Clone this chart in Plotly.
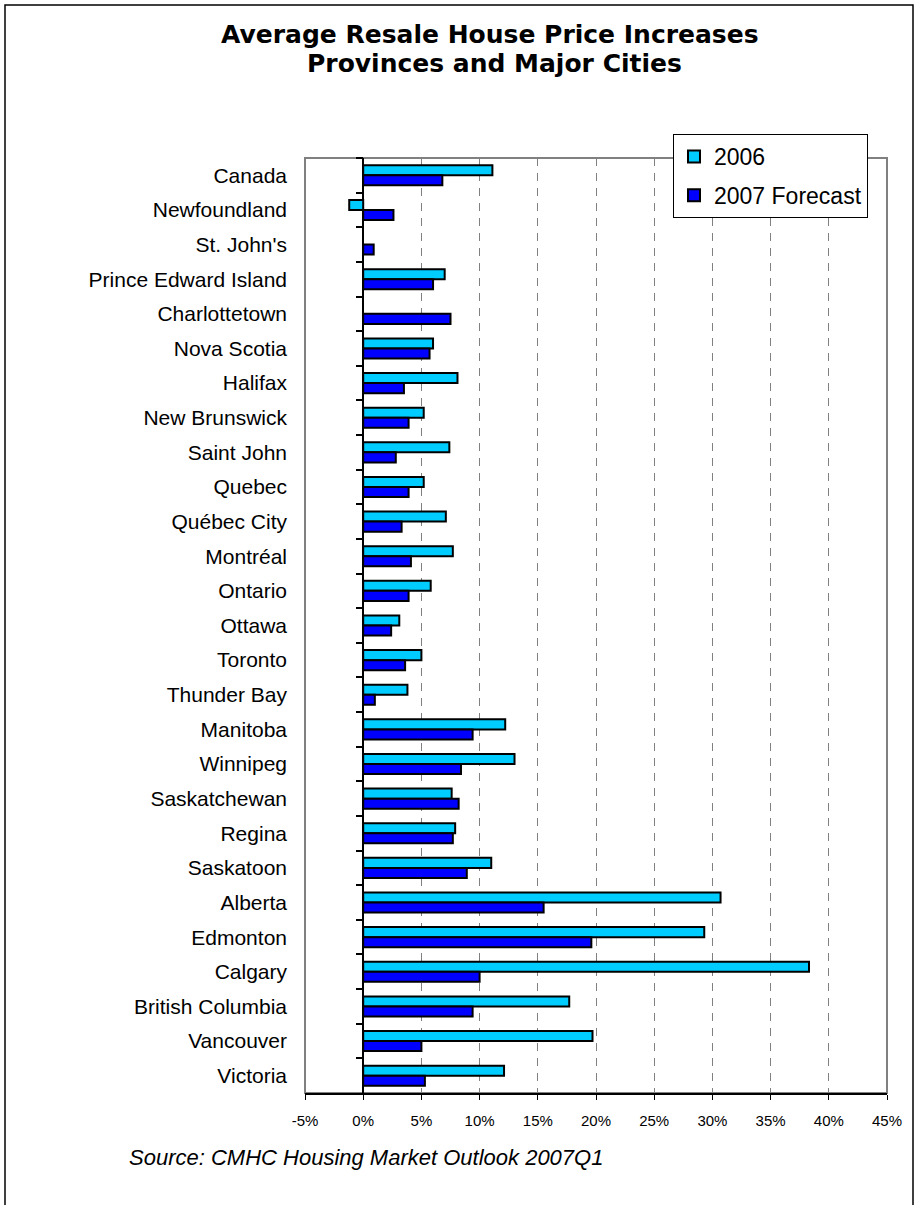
import plotly.graph_objects as go

categories = ["Canada", "Newfoundland", "St. John's", "Prince Edward Island", "Charlottetown",
              "Nova Scotia", "Halifax", "New Brunswick", "Saint John", "Quebec", "Québec City",
              "Montréal", "Ontario", "Ottawa", "Toronto", "Thunder Bay", "Manitoba", "Winnipeg",
              "Saskatchewan", "Regina", "Saskatoon", "Alberta", "Edmonton", "Calgary",
              "British Columbia", "Vancouver", "Victoria"]
v2006 = [11.1, -1.2, None, 7.0, None, 6.0, 8.1, 5.2, 7.4, 5.2, 7.1, 7.7, 5.8, 3.1, 5.0, 3.8,
         12.2, 13.0, 7.6, 7.9, 11.0, 30.7, 29.3, 38.3, 17.7, 19.7, 12.1]
v2007 = [6.8, 2.6, 0.9, 6.0, 7.5, 5.7, 3.5, 3.9, 2.8, 3.9, 3.3, 4.1, 3.9, 2.4, 3.6, 1.0,
         9.4, 8.4, 8.2, 7.7, 8.9, 15.5, 19.6, 10.0, 9.4, 5.0, 5.3]
series_names = ["2006", "2007 Forecast"]
series_colors = ["#00CCFF", "#0000FF"]
x_tick_vals = [-5, 0, 5, 10, 15, 20, 25, 30, 35, 40, 45]
x_tick_text = [f"{v}%" for v in x_tick_vals]

FONT = "Liberation Sans, Arial, sans-serif"
W, H = 917, 1205
L, R, T, B = 305, 887, 158, 1093

def px(x):
    return (x - L) / (R - L)

def py(y):
    return (B - y) / (B - T)

fig = go.Figure()
for name, vals, col in zip(series_names, [v2006, v2007], series_colors):
    fig.add_trace(go.Bar(y=categories, x=vals, orientation="h", name=name,
                         marker=dict(color=col, line=dict(color="black", width=2)),
                         legendgroup=name))

fig.update_layout(
    width=W, height=H,
    margin=dict(l=L, r=W - R, t=T, b=H - B, pad=0),
    paper_bgcolor="white", plot_bgcolor="white",
    barmode="group", bargap=0.42, bargroupgap=0,
    font=dict(family=FONT, color="black"),
    showlegend=True,
    legend=dict(x=px(673), y=py(134), xanchor="left", yanchor="top",
                bgcolor="white", bordercolor="black", borderwidth=1,
                font=dict(family=FONT, size=23, color="black"),
                tracegroupgap=6, traceorder="grouped"),
    xaxis=dict(range=[-5, 45], tickvals=x_tick_vals, ticktext=x_tick_text,
               showgrid=True, gridcolor="#808080", gridwidth=1, griddash="8px,7px",
               zeroline=True, zerolinecolor="black", zerolinewidth=1.5,
               showline=True, linecolor="black", linewidth=1.5,
               ticks="outside", ticklen=5, tickcolor="black", tickwidth=1,
               tickfont=dict(family=FONT, size=15, color="black"),
               ticklabelstandoff=8, fixedrange=True),
    yaxis=dict(type="category", categoryorder="array", categoryarray=categories,
               range=[len(categories) - 0.5, -0.5],
               anchor="free", position=px(363),
               ticks="outside", tickson="boundaries", ticklen=7, tickcolor="black", tickwidth=1.5,
               showline=False, showgrid=False, zeroline=False,
               tickfont=dict(family=FONT, size=21, color="black"),
               ticklabelstandoff=76, fixedrange=True),
    shapes=[
        dict(type="rect", xref="paper", yref="paper", x0=0, x1=1, y0=0, y1=1,
             line=dict(color="#808080", width=2), layer="below"),
        dict(type="rect", xref="paper", yref="paper", x0=px(5), x1=px(913),
             y0=py(1260), y1=py(5), line=dict(color="black", width=1.5), layer="above"),
    ],
    annotations=[
        dict(text="<b>Average Resale House Price Increases</b>", xref="paper", yref="paper",
             x=px(490), y=py(35), xanchor="center", yanchor="middle", showarrow=False,
             font=dict(family="DejaVu Sans, sans-serif", size=25, color="black")),
        dict(text="<b>Provinces and Major Cities</b>", xref="paper", yref="paper",
             x=px(494), y=py(64), xanchor="center", yanchor="middle", showarrow=False,
             font=dict(family="DejaVu Sans, sans-serif", size=25, color="black")),
        dict(text="<i>Source: CMHC Housing Market Outlook 2007Q1</i>", xref="paper", yref="paper",
             x=px(127), y=py(1157), xanchor="left", yanchor="middle", showarrow=False,
             font=dict(family=FONT, size=22, color="black")),
    ],
)

fig.write_html("out.html")
